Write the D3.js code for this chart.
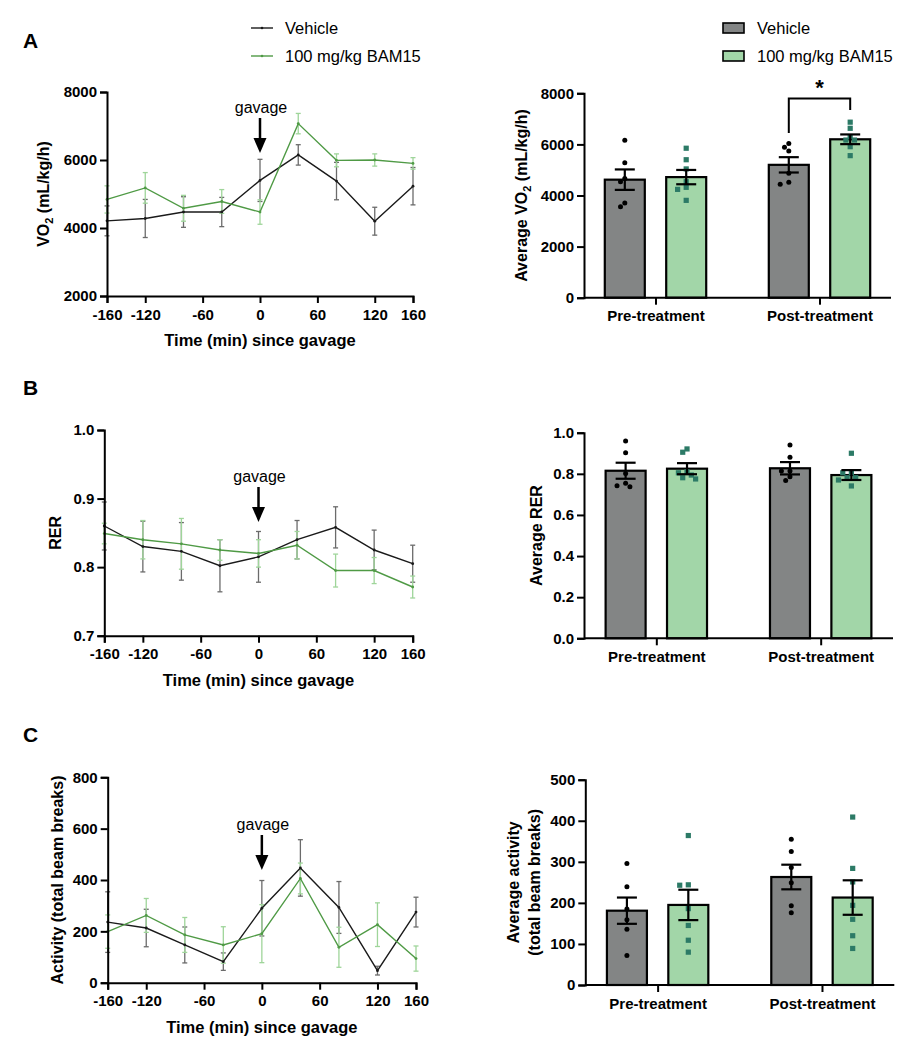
<!DOCTYPE html>
<html><head><meta charset="utf-8">
<script src="https://cdn.jsdelivr.net/npm/d3@7"></script>
<style>
body{margin:0;background:#fff;}
svg text{font-family:"Liberation Sans",Arial,sans-serif;}
</style></head>
<body><svg id="c" width="916" height="1050"></svg>
<script>
// ---------- DATA ----------
const time = [-160,-120,-80,-40,0,40,80,120,160];
const timeTicks = [-160,-120,-60,0,60,120,160];
const seriesNames = ["Vehicle","100 mg/kg BAM15"];
const phases = ["Pre-treatment","Post-treatment"];

// A: VO2 time course
const vo2Veh    = [4210,4280,4470,4470,5400,6150,5380,4200,5230];
const vo2VehErr = [440,560,450,430,620,300,550,410,550];
const vo2Bam    = [4840,5180,4580,4780,4470,7070,5990,6000,5900];
const vo2BamErr = [400,450,380,350,360,300,190,180,170];
const vo2Ticks  = [2000,4000,6000,8000];

// B: RER time course
const rerVeh    = [0.860,0.830,0.823,0.802,0.815,0.840,0.858,0.825,0.805];
const rerVehErr = [0.035,0.037,0.042,0.038,0.037,0.028,0.030,0.029,0.027];
const rerBam    = [0.849,0.840,0.834,0.825,0.820,0.832,0.795,0.795,0.771];
const rerBamErr = [0.015,0.028,0.037,0.015,0.020,0.020,0.024,0.019,0.016];
const rerTicks  = [0.7,0.8,0.9,1.0];

// C: Activity time course
const actVeh    = [236,213,147,82,290,447,293,47,275];
const actVehErr = [118,73,70,34,108,110,101,17,58];
const actBam    = [199,262,186,147,191,406,138,226,94];
const actBamErr = [65,66,68,71,113,60,78,85,49];
const actTicks  = [0,200,400,600,800];

// Bar means / SEM  [pre, post]
const vo2MeanVeh = [4620,5200], vo2SemVeh = [400,300];
const vo2MeanBam = [4720,6200], vo2SemBam = [280,190];
const rerMeanVeh = [0.815,0.827], rerSemVeh = [0.039,0.030];
const rerMeanBam = [0.825,0.794], rerSemBam = [0.027,0.024];
const actMeanVeh = [181,263], actSemVeh = [32,30];
const actMeanBam = [195,213], actSemBam = [37,42];

// Individual animals
const vo2PreVeh  = [6160,5280,4670,4540,3710,3560];
const vo2PreBam  = [5850,5400,5040,4540,4320,4240,3810];
const vo2PostVeh = [6040,5890,5740,4870,4520,4440];
const vo2PostBam = [6870,6630,6300,6170,6170,5910,5560];
const rerPreVeh  = [0.960,0.903,0.802,0.754,0.742,0.737];
const rerPreBam  = [0.921,0.905,0.810,0.805,0.794,0.781,0.775];
const rerPostVeh = [0.940,0.880,0.814,0.814,0.786,0.767];
const rerPostBam = [0.900,0.805,0.805,0.781,0.781,0.770,0.741];
const actPreVeh  = [296,239,185,159,136,72];
const actPreBam  = [364,244,243,186,145,109,80];
const actPostVeh = [355,325,286,249,193,176];
const actPostBam = [409,284,251,194,160,120,89];

const vo2BarTicks = [0,2000,4000,6000,8000];
const rerBarTicks = [0,0.2,0.4,0.6,0.8,1.0];
const actBarTicks = [0,100,200,300,400,500];

// ---------- STYLE ----------
const FONT = '"Liberation Sans",Arial,sans-serif';
const cLineVeh = "#1a1a1a", cLineBam = "#4f9a45";
const cErrVeh = "#6b6b6b", cErrBam = "#9fd59a";
const cBarVeh = "#838585", cBarBam = "#a2d6a8", cSq = "#2c7a66";

const svg = d3.select("#c");

function styleAxis(g, fs){
  g.selectAll(".domain").attr("stroke","#000").attr("stroke-width",2);
  g.selectAll(".tick line").attr("stroke","#000").attr("stroke-width",2);
  g.selectAll(".tick text").attr("font-size",fs).attr("font-weight","bold").attr("fill","#000").attr("font-family",FONT);
}

function linePanel(c){
  const x = d3.scaleLinear().domain([-160,160]).range([c.x0,c.x1]);
  const y = d3.scaleLinear().domain(c.dom).range([c.yb,c.yt]);
  const g = svg.append("g");
  // error bars
  const series = [
    {v:c.veh,e:c.vehE,lc:cLineVeh,ec:cErrVeh},
    {v:c.bam,e:c.bamE,lc:cLineBam,ec:cErrBam}
  ];
  series.forEach(s=>{
    const eg = g.append("g").attr("stroke",s.ec).attr("stroke-width",1.3).attr("fill","none");
    time.forEach((t,i)=>{
      const lo = Math.max(c.dom[0], s.v[i]-s.e[i]), hi = s.v[i]+s.e[i];
      eg.append("line").attr("x1",x(t)).attr("x2",x(t)).attr("y1",y(lo)).attr("y2",y(hi));
      eg.append("line").attr("x1",x(t)-2.5).attr("x2",x(t)+2.5).attr("y1",y(hi)).attr("y2",y(hi));
      if (s.v[i]-s.e[i] >= c.dom[0]) eg.append("line").attr("x1",x(t)-2.5).attr("x2",x(t)+2.5).attr("y1",y(lo)).attr("y2",y(lo));
    });
  });
  series.forEach(s=>{
    g.append("path").datum(s.v).attr("fill","none").attr("stroke",s.lc).attr("stroke-width",1.4)
      .attr("d",d3.line().x((d,i)=>x(time[i])).y(d=>y(d)));
    g.append("g").selectAll("circle").data(s.v).join("circle")
      .attr("cx",(d,i)=>x(time[i])).attr("cy",d=>y(d)).attr("r",1.4).attr("fill",s.lc);
  });
  // axes
  const ya = g.append("g").attr("transform",`translate(${c.x0},0)`)
    .call(d3.axisLeft(y).tickValues(c.ticks).tickFormat(c.fmt).tickSize(7).tickPadding(3));
  styleAxis(ya,15);
  const xa = g.append("g").attr("transform",`translate(0,${c.yb})`)
    .call(d3.axisBottom(x).tickValues(timeTicks).tickSize(7).tickPadding(6));
  styleAxis(xa,15);
  xa.selectAll(".tick text").text(d=>d);
  // x title
  g.append("text").attr("x",(c.x0+c.x1)/2).attr("y",c.yb+50).attr("text-anchor","middle")
    .attr("font-size",16.5).attr("font-weight","bold").text("Time (min) since gavage");
  // y title
  const yt = g.append("text").attr("transform",`translate(${c.ylx},${(c.yb+c.yt)/2}) rotate(-90)`)
    .attr("text-anchor","middle").attr("dy","0.35em").attr("font-size",16).attr("font-weight","bold");
  c.ylabel(yt);
  // gavage annotation
  const gx = x(0);
  g.append("text").attr("x",gx+1).attr("y",c.gy).attr("text-anchor","middle").attr("font-size",16).text("gavage");
  g.append("line").attr("x1",gx).attr("x2",gx).attr("y1",c.gy+5).attr("y2",c.gy+28)
    .attr("stroke","#000").attr("stroke-width",2.5);
  g.append("path").attr("d",`M${gx-6.5},${c.gy+25}L${gx+6.5},${c.gy+25}L${gx},${c.gy+40}Z`).attr("fill","#000");
  // panel letter
  g.append("text").attr("x",23).attr("y",c.ly).attr("font-size",21).attr("font-weight","bold").text(c.letter);
}

function swarm(vals, y, cx, s, minD){
  const placed = [];
  const sorted = vals.slice().sort((a,b)=>b-a);
  sorted.forEach(v=>{
    const py = y(v);
    const cands = [0,-s,s,-2*s,2*s,-3*s,3*s];
    let ox = 0;
    for (const o of cands){
      if (!placed.some(p=>Math.hypot(p.x-(cx+o),p.y-py)<minD)){ox=o;break;}
    }
    placed.push({x:cx+ox,y:py,v:v});
  });
  return placed;
}

function barPanel(c){
  const y = d3.scaleLinear().domain(c.dom).range([c.yb,c.yt]);
  const xc = d3.scalePoint().domain(phases).range([c.x0,c.x1]).padding(c.pad);
  const off = 30.7, bw = 40;
  const g = svg.append("g");
  const groups = [
    {m:c.mVeh,e:c.eVeh,pts:c.pVeh,fill:cBarVeh,dx:-off,shape:"c"},
    {m:c.mBam,e:c.eBam,pts:c.pBam,fill:cBarBam,dx:off,shape:"s"}
  ];
  groups.forEach(gr=>{
    phases.forEach((ph,i)=>{
      const cx = xc(ph)+gr.dx;
      g.append("rect").attr("x",cx-bw/2).attr("y",y(gr.m[i])).attr("width",bw).attr("height",y(c.dom[0])-y(gr.m[i]))
        .attr("fill",gr.fill).attr("stroke","#000").attr("stroke-width",2.2);
    });
  });
  groups.forEach(gr=>{
    phases.forEach((ph,i)=>{
      const cx = xc(ph)+gr.dx;
      const pts = swarm(gr.pts[i], y, cx, gr.shape==="c"?4.3:4.3, gr.shape==="c"?5:5.2);
      pts.forEach(p=>{
        if (gr.shape==="c") g.append("circle").attr("cx",p.x).attr("cy",p.y).attr("r",2.5).attr("fill","#000");
        else g.append("rect").attr("x",p.x-2.6).attr("y",p.y-2.6).attr("width",5.2).attr("height",5.2).attr("fill",cSq);
      });
      const hi = gr.m[i]+gr.e[i], lo = gr.m[i]-gr.e[i];
      const eg = g.append("g").attr("stroke","#000").attr("stroke-width",2.2);
      eg.append("line").attr("x1",cx).attr("x2",cx).attr("y1",y(lo)).attr("y2",y(hi));
      eg.append("line").attr("x1",cx-10).attr("x2",cx+10).attr("y1",y(hi)).attr("y2",y(hi));
      eg.append("line").attr("x1",cx-10).attr("x2",cx+10).attr("y1",y(lo)).attr("y2",y(lo));
    });
  });
  const ya = g.append("g").attr("transform",`translate(${c.x0},0)`)
    .call(d3.axisLeft(y).tickValues(c.ticks).tickFormat(c.fmt).tickSize(7).tickPadding(3));
  styleAxis(ya,15);
  const xa = g.append("g").attr("transform",`translate(0,${c.yb})`)
    .call(d3.axisBottom(xc).tickSize(7).tickPadding(6).tickSizeOuter(0));
  styleAxis(xa,15);
  xa.select(".domain").attr("d",`M${c.x0},0H${c.x1}`);
  const yt = g.append("text").attr("transform",`translate(${c.ylx},${(c.yb+c.yt)/2}) rotate(-90)`)
    .attr("text-anchor","middle").attr("font-size",16).attr("font-weight","bold");
  c.ylabel(yt);
  if (c.sig){
    const xl = xc(phases[1])-off, xr = xc(phases[1])+off;
    g.append("path").attr("d",`M${xl},${y(c.sig[1])}V${y(c.sig[0])}H${xr}V${y(c.sig[2])}`)
      .attr("fill","none").attr("stroke","#000").attr("stroke-width",2);
    g.append("text").attr("x",(xl+xr)/2).attr("y",y(c.sig[0])-3).attr("text-anchor","middle")
      .attr("font-size",22).attr("font-weight","bold").text("*");
  }
}

// ---------- LEFT PANELS ----------
linePanel({x0:107,x1:413,yb:296,yt:92,dom:[2000,8000],ticks:vo2Ticks,fmt:d3.format("d"),
  veh:vo2Veh,vehE:vo2VehErr,bam:vo2Bam,bamE:vo2BamErr,letter:"A",ly:48,gy:113,ylx:43,
  ylabel:t=>{t.append("tspan").text("VO");t.append("tspan").attr("font-size",11).attr("dy",4).text("2");t.append("tspan").attr("dy",-4).text(" (mL/kg/h)");}});
linePanel({x0:104.3,x1:412.7,yb:635.7,yt:430,dom:[0.7,1.0],ticks:rerTicks,fmt:d3.format(".1f"),
  veh:rerVeh,vehE:rerVehErr,bam:rerBam,bamE:rerBamErr,letter:"B",ly:395,gy:482,ylx:55,
  ylabel:t=>t.text("RER")});
linePanel({x0:107.7,x1:416,yb:982.7,yt:777.3,dom:[0,800],ticks:actTicks,fmt:d3.format("d"),
  veh:actVeh,vehE:actVehErr,bam:actBam,bamE:actBamErr,letter:"C",ly:742,gy:830,ylx:57,
  ylabel:t=>t.text("Activity (total beam breaks)")});

// ---------- RIGHT PANELS ----------
barPanel({x0:584,x1:891,yb:297.7,yt:93.3,dom:[0,8000],ticks:vo2BarTicks,fmt:d3.format("d"),pad:0.436,
  mVeh:vo2MeanVeh,eVeh:vo2SemVeh,mBam:vo2MeanBam,eBam:vo2SemBam,
  pVeh:[vo2PreVeh,vo2PostVeh],pBam:[vo2PreBam,vo2PostBam],ylx:527,sig:[7800,6450,7350],
  ylabel:t=>{t.append("tspan").text("Average VO");t.append("tspan").attr("font-size",11).attr("dy",4).text("2");t.append("tspan").attr("dy",-4).text(" (mL/kg/h)");}});
barPanel({x0:584,x1:893,yb:638.3,yt:432.7,dom:[0,1.0],ticks:rerBarTicks,fmt:d3.format(".1f"),pad:0.44,
  mVeh:rerMeanVeh,eVeh:rerSemVeh,mBam:rerMeanBam,eBam:rerSemBam,
  pVeh:[rerPreVeh,rerPostVeh],pBam:[rerPreBam,rerPostBam],ylx:542,
  ylabel:t=>t.text("Average RER")});
barPanel({x0:585.3,x1:894.3,yb:985,yt:779.7,dom:[0,500],ticks:actBarTicks,fmt:d3.format("d"),pad:0.44,
  mVeh:actMeanVeh,eVeh:actSemVeh,mBam:actMeanBam,eBam:actSemBam,
  pVeh:[actPreVeh,actPostVeh],pBam:[actPreBam,actPostBam],ylx:519,
  ylabel:t=>{t.append("tspan").attr("x",0).attr("dy","0").text("Average activity");t.append("tspan").attr("x",0).attr("dy","1.3em").text("(total beam breaks)");}});

// ---------- LEGENDS ----------
const legL = svg.append("g");
[[cLineVeh,28],[cLineBam,56]].forEach((d,i)=>{
  legL.append("line").attr("x1",251).attr("x2",273).attr("y1",d[1]).attr("y2",d[1]).attr("stroke",d[0]).attr("stroke-width",1.4);
  legL.append("circle").attr("cx",262).attr("cy",d[1]).attr("r",1.3).attr("fill",d[0]);
  legL.append("text").attr("x",285).attr("y",d[1]).attr("dy","0.35em").attr("font-size",16.5).text(seriesNames[i]);
});
const legR = svg.append("g");
[[cBarVeh,28],[cBarBam,56]].forEach((d,i)=>{
  legR.append("rect").attr("x",723).attr("y",d[1]-5).attr("width",21).attr("height",10).attr("fill",d[0]).attr("stroke","#000").attr("stroke-width",1.6);
  legR.append("text").attr("x",757).attr("y",d[1]).attr("dy","0.35em").attr("font-size",16.5).text(seriesNames[i]);
});
</script></body></html>
